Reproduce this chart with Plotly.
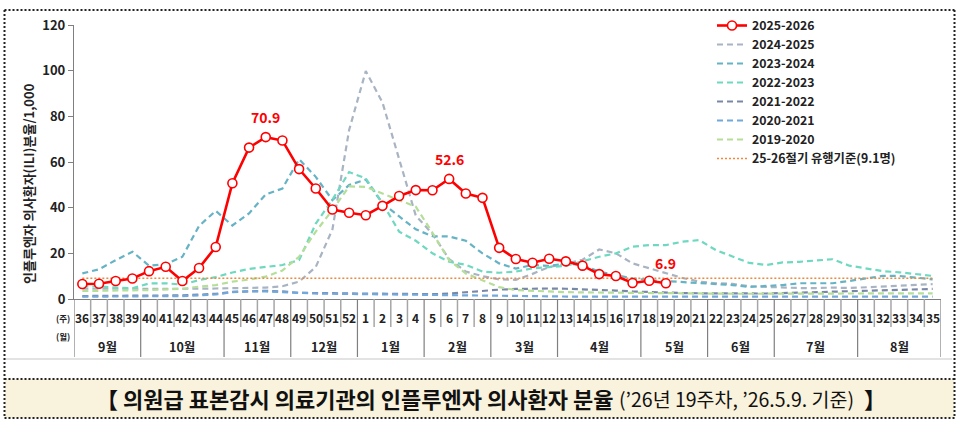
import plotly.graph_objects as go

# ---------------- data ----------------
weeks = list(range(36, 53)) + list(range(1, 36))
month_labels = ["9월", "10월", "11월", "12월", "1월", "2월", "3월", "4월", "5월", "6월", "7월", "8월"]
month_week_counts = [4, 5, 4, 4, 4, 4, 4, 5, 4, 4, 5, 5]

s2025_2026 = [6.6, 6.7, 7.9, 9.0, 12.2, 14.1, 7.9, 13.6, 22.8, 50.7, 66.3, 70.9, 69.4,
              56.9, 48.4, 39.2, 37.8, 36.7, 40.8, 45.1, 47.7, 47.6, 52.6, 46.2, 44.3,
              22.4, 17.5, 15.9, 17.6, 16.5, 14.6, 10.9, 10.1, 7.0, 8.0, 6.9]

s2024_2025 = [4.5, 4.5, 4.4, 4.3, 4.2, 4.3, 4.4, 4.5, 4.6, 4.8, 4.8, 5.0, 5.6,
              7.6, 14.0, 30.5, 74.0, 99.8, 86.1, 61.0, 36.5, 28.5, 17.5, 12.0, 10.0,
              8.6, 8.4, 11.0, 14.0, 15.5, 17.2, 21.7, 20.0, 15.6, 13.4, 11.2, 9.2,
              7.6, 6.9, 6.6, 5.6, 5.3, 5.0, 4.8, 4.8, 5.0, 4.8, 5.2, 5.6, 6.0, 6.2, 6.5]

s2023_2024 = [11.2, 13.0, 17.0, 20.7, 14.6, 15.2, 18.5, 32.0, 38.6, 32.2, 37.5, 45.8, 48.4,
              61.2, 53.5, 43.3, 49.9, 52.3, 41.9, 36.3, 30.5, 27.5, 27.4, 25.5, 20.0,
              15.6, 13.3, 14.9, 14.5, 15.5, 14.9, 12.0, 10.5, 9.0, 8.3, 7.9, 7.6,
              6.9, 6.5, 6.1, 5.3, 5.7, 6.1, 6.9, 6.9, 6.9, 7.9, 9.0, 10.1, 10.1, 9.5, 8.6]

s2022_2023 = [5.6, 5.5, 5.0, 4.7, 6.8, 6.9, 6.3, 8.3, 9.6, 11.6, 13.2, 14.1, 14.9,
              17.0, 33.0, 43.5, 55.6, 52.8, 42.0, 29.5, 25.5, 20.0, 16.3, 15.0, 12.0,
              11.5, 12.0, 13.4, 14.1, 14.5, 16.5, 18.5, 20.0, 22.9, 23.6, 23.6, 25.1,
              25.8, 21.4, 18.5, 15.8, 14.9, 16.0, 16.3, 16.8, 17.4, 14.6, 13.4, 12.2, 11.7, 10.9, 10.1]

s2021_2022 = [1.3, 1.3, 1.3, 1.3, 1.4, 1.5, 1.6, 1.9, 2.3, 3.1, 3.5, 3.6, 3.3,
              2.7, 2.6, 2.5, 2.4, 2.3, 2.2, 2.1, 2.0, 2.1, 2.4, 3.0, 3.6,
              4.1, 4.4, 4.6, 4.6, 4.5, 4.3, 4.0, 3.7, 3.3, 3.0, 2.8, 2.6,
              2.5, 2.4, 2.3, 2.3, 2.4, 2.6, 2.8, 3.0, 3.2, 3.4, 3.6, 3.8, 4.0, 4.2, 4.4]

s2020_2021 = [1.0, 1.0, 1.0, 1.1, 1.1, 1.2, 1.3, 1.6, 2.0, 3.0, 3.4, 3.3, 3.0,
              2.5, 2.4, 2.3, 2.2, 2.0, 1.9, 1.8, 1.8, 1.8, 1.7, 1.5, 1.3,
              1.2, 1.1, 1.0, 1.0, 1.0, 1.0, 1.0, 1.0, 1.0, 1.0, 1.0, 1.0,
              1.0, 1.0, 1.0, 1.0, 1.0, 1.0, 1.0, 1.0, 1.0, 1.0, 1.0, 1.0, 1.0, 1.0, 1.0]

s2019_2020 = [3.5, 3.5, 3.6, 3.8, 3.9, 4.2, 4.5, 5.4, 6.1, 7.6, 8.5, 9.8, 12.5,
              18.5, 29.5, 39.0, 49.3, 49.1, 46.2, 43.3, 40.4, 29.0, 17.0, 11.2, 8.3,
              5.2, 3.9, 3.5, 3.2, 3.0, 2.9, 2.8, 2.7, 2.6, 2.5, 2.5, 2.4,
              2.4, 2.3, 2.3, 2.3, 2.3, 2.3, 2.4, 2.4, 2.4, 2.4, 2.4, 2.5, 2.5, 2.5, 2.5]

threshold = 9.1

labels_to_mark = {47: "70.9", 6: "52.6", 19: "6.9"}

caption_bold = "【 의원급 표본감시 의료기관의 인플루엔자 의사환자 분율"
caption_regular = "(’26년 19주차, ’26.5.9. 기준)"
caption_end = "】"

# ---------------- layout helpers ----------------
FONT = "Noto Sans CJK KR, Noto Sans, sans-serif"
W, H = 959, 427
L, R, T, B = 74, 18, 25, 128
PW = W - L - R
PH = H - T - B


def px(X):
    return (X - L) / PW


def py(Y):
    return (H - B - Y) / PH


cats = [str(w) for w in weeks]
idx = list(range(len(weeks)))

fig = go.Figure()

others = [
    ("2024-2025", s2024_2025, "#a9b4c3"),
    ("2023-2024", s2023_2024, "#66b3c5"),
    ("2022-2023", s2022_2023, "#6fd8c0"),
    ("2021-2022", s2021_2022, "#7a88a8"),
    ("2020-2021", s2020_2021, "#72a8dc"),
    ("2019-2020", s2019_2020, "#b5de98"),
]

for rank, (name, vals, col) in enumerate(others, start=2):
    fig.add_trace(go.Scatter(
        x=idx, y=vals, name=name, mode="lines",
        line=dict(color=col, width=2.2, dash="6px,4px"),
        legendrank=rank, hoverinfo="skip"))

fig.add_trace(go.Scatter(
    x=idx, y=[threshold] * len(idx), name="25-26절기 유행기준(9.1명)", mode="lines",
    line=dict(color="#f0883e", width=1.5, dash="2px,2px"),
    legendrank=8, hoverinfo="skip"))

fig.add_trace(go.Scatter(
    x=idx[:len(s2025_2026)], y=s2025_2026, name="2025-2026", mode="lines+markers",
    line=dict(color="#ff0000", width=2.6),
    marker=dict(symbol="circle", size=9, color="white", line=dict(color="#ff0000", width=1.6)),
    legendrank=1, hoverinfo="skip"))

annotations = []
for wk, txt in labels_to_mark.items():
    i = weeks.index(wk)
    annotations.append(dict(
        x=i, y=s2025_2026[i], xref="x", yref="y", text=txt, showarrow=False,
        xanchor="center", yanchor="middle",
        yshift=20, font=dict(family=FONT, size=14, color="#ff0000", weight="bold")))

shapes = []
# x-axis separators
month_bounds = [0]
for c in month_week_counts:
    month_bounds.append(month_bounds[-1] + c)
for i in range(len(weeks) + 1):
    if i in month_bounds:
        shapes.append(dict(type="line", xref="x", yref="paper", x0=i - 0.5, x1=i - 0.5,
                           y0=py(299), y1=py(357), line=dict(color="#7f7f7f", width=1.2)))
    else:
        shapes.append(dict(type="line", xref="x", yref="paper", x0=i - 0.5, x1=i - 0.5,
                           y0=py(299), y1=py(327), line=dict(color="#a6a6a6", width=1.5)))

# week labels
for i, w in enumerate(cats):
    annotations.append(dict(x=i, y=py(317), xref="x", yref="paper", text=w, showarrow=False,
                            xanchor="center", yanchor="middle",
                            font=dict(family=FONT, size=12, color="#222222", weight="bold")))
# month labels
for i, m in enumerate(month_labels):
    center = (month_bounds[i] + month_bounds[i + 1] - 1) / 2
    annotations.append(dict(x=center, y=py(346), xref="x", yref="paper", text=m, showarrow=False,
                            xanchor="center", yanchor="middle",
                            font=dict(family=FONT, size=12.5, color="#222222", weight="bold")))
annotations.append(dict(x=px(63), y=py(318), xref="paper", yref="paper", text="(주)", showarrow=False,
                        xanchor="center", yanchor="middle",
                        font=dict(family=FONT, size=8.5, color="#222222", weight="bold")))
annotations.append(dict(x=px(63), y=py(336), xref="paper", yref="paper", text="(월)", showarrow=False,
                        xanchor="center", yanchor="middle",
                        font=dict(family=FONT, size=8.5, color="#222222", weight="bold")))

# y-axis title
annotations.append(dict(x=px(28), y=py(184), xref="paper", yref="paper",
                        text="인플루엔자 의사환자(ILI)분율/1,000", textangle=-90, showarrow=False,
                        xanchor="center", yanchor="middle",
                        font=dict(family=FONT, size=13, color="#222222", weight="bold")))

# frame / caption box
shapes.append(dict(type="line", xref="paper", yref="paper", x0=px(5), x1=px(952), y0=py(359), y1=py(359),
                   line=dict(color="#e3e3e3", width=2)))
shapes.append(dict(type="rect", xref="paper", yref="paper", x0=px(5), x1=px(954), y0=py(379), y1=py(418),
                   fillcolor="#f9f2dc", line=dict(width=0), layer="below"))
for yy in (379, 418, 10):
    shapes.append(dict(type="line", xref="paper", yref="paper", x0=px(4.5), x1=px(954.5),
                       y0=py(yy), y1=py(yy), line=dict(color="#222222", width=2, dash="2px,2px")))
for xx in (4.5, 954.5):
    shapes.append(dict(type="line", xref="paper", yref="paper", x0=px(xx), x1=px(xx), y0=py(10), y1=py(418),
                       line=dict(color="#222222", width=2, dash="2px,2px")))

annotations.append(dict(x=px(616), y=py(398), xref="paper", yref="paper", showarrow=False,
                        xanchor="right", yanchor="middle", text=caption_bold,
                        font=dict(family=FONT, size=22, color="#111111", weight="bold")))
annotations.append(dict(x=px(617), y=py(398), xref="paper", yref="paper", showarrow=False,
                        xanchor="left", yanchor="middle", text=caption_regular,
                        font=dict(family=FONT, size=19.5, color="#111111", weight="normal")))
annotations.append(dict(x=px(862), y=py(398), xref="paper", yref="paper", showarrow=False,
                        xanchor="left", yanchor="middle", text=caption_end,
                        font=dict(family=FONT, size=22, color="#111111", weight="bold")))

fig.update_layout(
    width=W, height=H,
    margin=dict(l=L, r=R, t=T, b=B, autoexpand=False),
    paper_bgcolor="white", plot_bgcolor="white",
    showlegend=True,
    legend=dict(x=px(712), y=py(11), xanchor="left", yanchor="top",
                bgcolor="rgba(0,0,0,0)",
                font=dict(family=FONT, size=12.3, color="#222222", weight="bold")),
    xaxis=dict(range=[-0.5, len(weeks) - 0.5], showline=True, linecolor="#7f7f7f",
               linewidth=1.2, ticks="", showticklabels=False, showgrid=False, zeroline=False,
               fixedrange=True),
    yaxis=dict(range=[0, 120], dtick=20, showline=True, linecolor="#7f7f7f", linewidth=1.2,
               ticks="outside", ticklen=5, tickcolor="#7f7f7f", showgrid=False, zeroline=False,
               tickfont=dict(family=FONT, size=13, color="#222222", weight="bold")),
    annotations=annotations,
    shapes=shapes,
)

fig.write_html("out.html")
